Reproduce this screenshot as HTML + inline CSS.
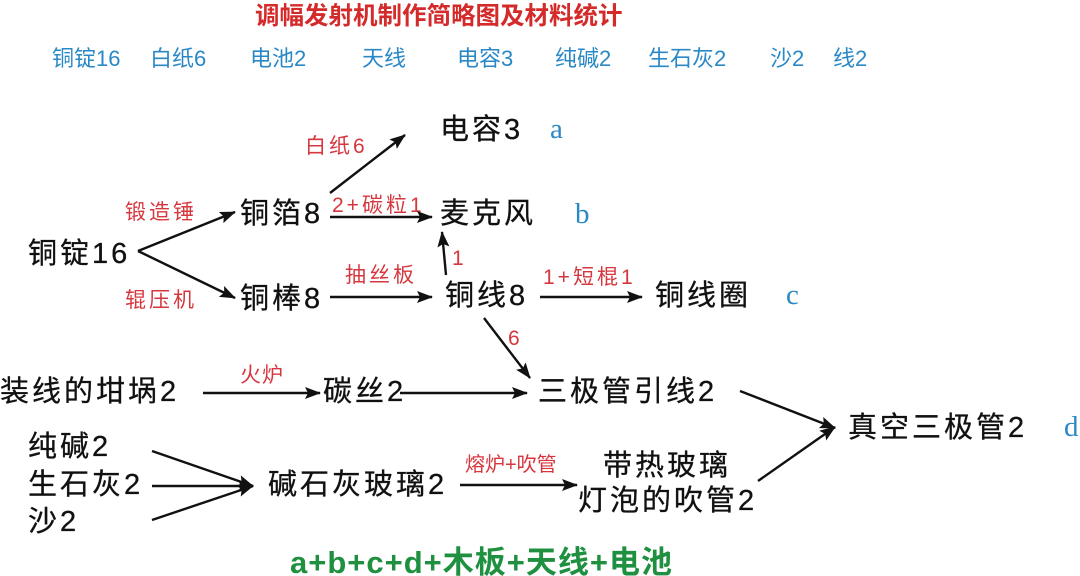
<!DOCTYPE html>
<html><head><meta charset="utf-8"><style>
html,body{margin:0;padding:0;background:#fff;}
svg{display:block;}
text{font-family:"Liberation Sans","Noto Sans CJK SC",sans-serif;}
.n{font-size:29px;fill:#111;letter-spacing:3px;stroke:#111;stroke-width:0.3px;}
.r{font-size:21px;fill:#d6373f;letter-spacing:3px;}
.b{font-size:22px;fill:#2a88c6;}
</style></head><body>
<svg width="1080" height="576" viewBox="0 0 1080 576">
<defs>
<marker id="a" viewBox="0 0 16 12" refX="15" refY="6" markerWidth="16" markerHeight="12" orient="auto" markerUnits="userSpaceOnUse"><path d="M0,0 L16,6 L0,12 L3,6 Z" fill="#111"/></marker>
</defs>
<text x="255" y="24" style="font-size:24.5px;font-weight:bold;fill:#d42a2a">调幅发射机制作简略图及材料统计</text>
<g class="b">
<text x="52" y="66">铜锭16</text><text x="150" y="66">白纸6</text><text x="250" y="66">电池2</text>
<text x="362" y="66">天线</text><text x="457" y="66">电容3</text><text x="555" y="66">纯碱2</text>
<text x="648" y="66">生石灰2</text><text x="770" y="66">沙2</text><text x="833" y="66">线2</text>
</g>
<g class="n">
<text x="28" y="263">铜锭16</text>
<text x="240" y="223">铜箔8</text>
<text x="240" y="308">铜棒8</text>
<text x="440" y="139">电容3</text>
<text x="440" y="223">麦克风</text>
<text x="445" y="305">铜线8</text>
<text x="655" y="305">铜线圈</text>
<text x="0" y="401">装线的坩埚2</text>
<text x="323" y="401">碳丝2</text>
<text x="538" y="401">三极管引线2</text>
<text x="848" y="437">真空三极管2</text>
<text x="28" y="456">纯碱2</text>
<text x="28" y="494">生石灰2</text>
<text x="28" y="531">沙2</text>
<text x="268" y="494">碱石灰玻璃2</text>
<text x="603" y="475">带热玻璃</text>
<text x="578" y="510">灯泡的吹管2</text>
</g>
<g style="font-family:'Liberation Serif',serif;font-size:29px;fill:#2a88c6">
<text x="550" y="138" style="font-family:'Liberation Serif',serif">a</text>
<text x="575" y="223" style="font-family:'Liberation Serif',serif">b</text>
<text x="786" y="304" style="font-family:'Liberation Serif',serif">c</text>
<text x="1064" y="436" style="font-family:'Liberation Serif',serif">d</text>
</g>
<g class="r">
<text x="125" y="219">锻造锤</text>
<text x="125" y="307">辊压机</text>
<text x="305" y="153">白纸6</text>
<text x="332" y="212">2+碳粒1</text>
<text x="345" y="282">抽丝板</text>
<text x="452" y="265">1</text>
<text x="543" y="284">1+短棍1</text>
<text x="508" y="345">6</text>
<text x="240" y="382" style="letter-spacing:1px">火炉</text>
<text x="465" y="471" style="font-size:20px;letter-spacing:0px">熔炉+吹管</text>
</g>
<g stroke="#111" stroke-width="2.4" fill="none" marker-end="url(#a)">
<line x1="138" y1="251" x2="235" y2="212"/>
<line x1="138" y1="251" x2="235" y2="298"/>
<line x1="330" y1="193" x2="405" y2="135"/>
<line x1="330" y1="217" x2="432" y2="217"/>
<line x1="330" y1="297" x2="432" y2="297"/>
<line x1="446" y1="275" x2="442" y2="232"/>
<line x1="540" y1="297" x2="642" y2="297"/>
<line x1="484" y1="318" x2="530" y2="378"/>
<line x1="203" y1="393" x2="320" y2="393"/>
<line x1="400" y1="393" x2="527" y2="393"/>
<line x1="740" y1="391" x2="835" y2="428"/>
<line x1="758" y1="481" x2="835" y2="427"/>
<line x1="152" y1="451" x2="253" y2="486"/>
<line x1="152" y1="486" x2="253" y2="486"/>
<line x1="152" y1="520" x2="253" y2="486"/>
<line x1="460" y1="485" x2="577" y2="485"/>
</g>
<text x="290" y="573" style="font-size:31px;font-weight:bold;fill:#1e9040;letter-spacing:1px">a+b+c+d+木板+天线+电池</text>
</svg>
</body></html>
